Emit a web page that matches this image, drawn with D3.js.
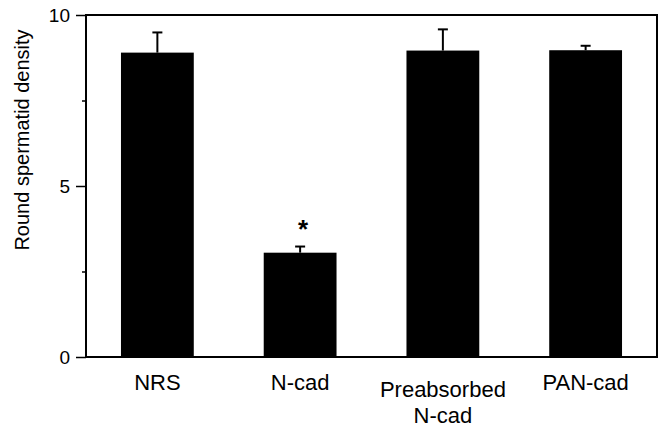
<!DOCTYPE html>
<html lang="en">
<head>
  <meta charset="UTF-8">
  <title>Round spermatid density</title>
  <script src="https://d3js.org/d3.v7.min.js"></script>
  <style>
    body {
      margin: 0;
      padding: 0;
      background: #fff;
    }
    svg {
      display: block;
      font-family: "Liberation Sans", Arial, sans-serif;
    }
  </style>
</head>
<body>
  <div id="chart"></div>

  <script>
    // data
    const categories = ["NRS", "N-cad", "Preabsorbed N-cad", "PAN-cad"];
    const labelLines = [["NRS"], ["N-cad"], ["Preabsorbed", "N-cad"], ["PAN-cad"]];
    const means = [8.90, 3.05, 8.96, 8.97];
    const errors = [0.59, 0.18, 0.62, 0.13];
    const significant = [false, true, false, false];
    const majorTicks = [0, 5, 10];
    const minorTicks = [2.5, 7.5];

    const W = 663, H = 429;
    const margin = { top: 15, right: 6, bottom: 72, left: 86 };
    const width = W - margin.left - margin.right;
    const height = H - margin.top - margin.bottom;

    const svg = d3.select("#chart")
      .append("svg")
      .attr("width", W)
      .attr("height", H);

    const g = svg.append("g")
      .attr("transform", `translate(${margin.left},${margin.top})`);

    const x = d3.scaleBand()
      .domain(categories)
      .range([0, width])
      .paddingInner(0.49)
      .paddingOuter(0.245);

    const y = d3.scaleLinear()
      .domain([0, 10])
      .range([height, 0]);

    // bars
    g.selectAll(".bar")
      .data(categories)
      .enter()
      .append("rect")
      .attr("class", "bar")
      .attr("x", d => x(d))
      .attr("width", x.bandwidth())
      .attr("y", (d, i) => y(means[i]))
      .attr("height", (d, i) => height - y(means[i]))
      .attr("fill", "#000");

    // error bars (upper only)
    const capW = 10;
    const err = g.selectAll(".err")
      .data(categories)
      .enter()
      .append("g")
      .attr("class", "err")
      .attr("stroke", "#000")
      .attr("stroke-width", 2);

    err.append("line")
      .attr("x1", d => x(d) + x.bandwidth() / 2)
      .attr("x2", d => x(d) + x.bandwidth() / 2)
      .attr("y1", (d, i) => y(means[i]))
      .attr("y2", (d, i) => y(means[i] + errors[i]));

    err.append("line")
      .attr("x1", d => x(d) + x.bandwidth() / 2 - capW / 2)
      .attr("x2", d => x(d) + x.bandwidth() / 2 + capW / 2)
      .attr("y1", (d, i) => y(means[i] + errors[i]))
      .attr("y2", (d, i) => y(means[i] + errors[i]));

    // significance star
    g.selectAll(".star")
      .data(categories.filter((d, i) => significant[i]))
      .enter()
      .append("text")
      .attr("class", "star")
      .attr("x", d => x(d) + x.bandwidth() / 2 + 3)
      .attr("y", d => {
        const i = categories.indexOf(d);
        return y(means[i] + errors[i]) - 9;
      })
      .attr("text-anchor", "middle")
      .attr("font-size", 26)
      .attr("font-weight", "bold")
      .text("*");

    // frame
    g.append("rect")
      .attr("x", 0)
      .attr("y", 0)
      .attr("width", width)
      .attr("height", height)
      .attr("fill", "none")
      .attr("stroke", "#000")
      .attr("stroke-width", 2);

    // y axis, major ticks with labels
    const yAxis = g.append("g")
      .call(d3.axisLeft(y).tickValues(majorTicks).tickSize(10).tickPadding(6).tickFormat(d3.format("d")));
    yAxis.select(".domain").remove();
    yAxis.selectAll("line").attr("stroke-width", 1.5);
    yAxis.selectAll("text")
      .attr("font-size", 19)
      .attr("font-family", "'Liberation Sans', Arial, sans-serif")
      .attr("fill", "#000");

    // minor ticks
    const yMinor = g.append("g")
      .call(d3.axisLeft(y).tickValues(minorTicks).tickSize(4).tickFormat(""));
    yMinor.select(".domain").remove();
    yMinor.selectAll("line").attr("stroke-width", 1.5);

    // x labels
    const xl = g.selectAll(".xlab")
      .data(categories)
      .enter()
      .append("text")
      .attr("class", "xlab")
      .attr("text-anchor", "middle")
      .attr("font-size", 22)
      .attr("fill", "#000")
      .attr("transform", (d, i) => {
        const yy = labelLines[i].length > 1 ? height + 40 : height + 33;
        return `translate(${x(d) + x.bandwidth() / 2},${yy})`;
      });

    xl.each(function(d, i) {
      const t = d3.select(this);
      labelLines[i].forEach((line, k) => {
        t.append("tspan")
          .attr("x", 0)
          .attr("dy", k === 0 ? 0 : 26)
          .text(line);
      });
    });

    // y title
    svg.append("text")
      .attr("transform", "translate(29,140) rotate(-90)")
      .attr("text-anchor", "middle")
      .attr("font-size", 20)
      .attr("fill", "#000")
      .text("Round spermatid density");
  </script>
</body>
</html>
